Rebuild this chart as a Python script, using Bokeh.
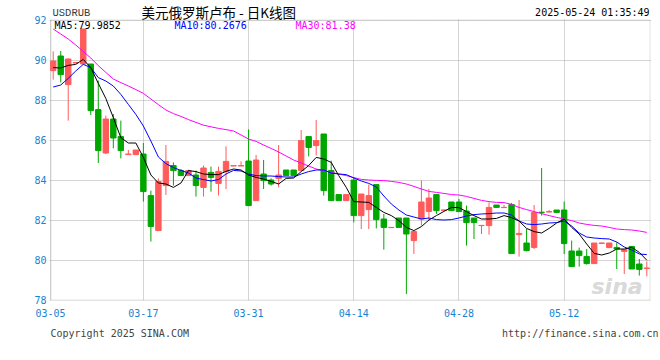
from bokeh.plotting import figure
from bokeh.models import Range1d, FixedTicker, Label, ColumnDataSource, BoxAnnotation, Title
from bokeh.embed import file_html
from bokeh.resources import INLINE

# ---------------- data ----------------
date_labels = ["03-05", "03-17", "03-31", "04-14", "04-28", "05-12"]
date_days = [0, 12, 26, 40, 54, 68]
y_ticks = [78, 80, 82, 84, 86, 88, 90, 92]

opens = [89.47, 90.20, 88.77, 89.85, 89.80, 89.80, 87.52, 85.35, 87.05, 86.17,
         85.27, 85.27, 85.30, 83.22, 81.47, 83.72, 84.72, 84.47, 84.22, 84.25,
         83.63, 84.38, 83.83, 84.42, 84.70, 84.70, 84.95, 82.97, 84.30, 84.00,
         84.08, 84.50, 84.50, 84.47, 86.17, 85.72, 86.30, 84.47, 83.27, 82.97,
         84.00, 82.22, 82.52, 83.77, 82.05, 81.62, 82.10, 82.10, 80.97, 82.05,
         82.43, 83.27, 82.48, 82.90, 82.90, 82.45, 82.10, 81.72, 81.72, 82.75,
         82.62, 82.77, 81.27, 80.85, 80.63, 82.39, 82.40, 82.50, 82.50, 80.45,
         80.45, 80.18, 79.82, 80.83, 80.62, 80.63, 80.43, 80.68, 79.80, 79.58]
highs = [90.43, 90.45, 90.08, 89.90, 91.55, 89.80, 88.97, 87.22, 87.30, 86.97,
         85.50, 85.50, 85.85, 83.47, 84.08, 85.75, 84.88, 84.55, 84.52, 84.47,
         84.72, 84.67, 84.67, 85.68, 84.73, 84.93, 86.53, 85.25, 85.00, 84.08,
         85.75, 84.50, 84.50, 86.50, 86.17, 87.00, 86.30, 84.97, 83.27, 83.27,
         84.13, 83.30, 83.77, 83.77, 82.30, 81.65, 82.10, 82.10, 81.42, 83.98,
         83.55, 83.27, 82.52, 82.90, 83.05, 82.72, 82.10, 81.73, 82.88, 82.75,
         82.75, 82.85, 83.00, 81.55, 82.75, 84.60, 82.50, 82.50, 82.92, 80.97,
         80.62, 80.55, 80.85, 80.87, 80.85, 80.88, 80.52, 80.68, 80.05, 79.93]
lows = [89.02, 88.88, 86.97, 89.83, 89.78, 87.25, 84.85, 85.30, 85.58, 85.08,
        85.25, 85.27, 82.92, 80.92, 81.47, 83.25, 83.72, 84.20, 84.22, 83.17,
        83.17, 83.42, 83.22, 83.55, 84.70, 84.70, 82.70, 82.97, 83.55, 83.72,
        83.63, 84.22, 84.22, 84.47, 85.18, 85.22, 83.22, 82.97, 82.97, 82.97,
        81.88, 81.55, 81.55, 81.58, 80.52, 81.60, 81.63, 78.30, 80.30, 81.72,
        81.97, 82.30, 82.48, 82.45, 82.42, 80.72, 81.05, 81.30, 81.27, 82.63,
        82.62, 80.32, 80.17, 80.43, 80.55, 82.22, 82.38, 82.38, 80.30, 79.67,
        79.67, 79.77, 79.82, 80.83, 80.62, 79.55, 79.30, 79.55, 79.22, 79.18]
closes = [89.95, 89.27, 90.05, 89.87, 91.55, 87.47, 85.47, 87.05, 86.10, 85.47,
          85.30, 85.50, 83.42, 81.68, 83.92, 84.93, 84.47, 84.22, 84.47, 83.72,
          84.60, 84.13, 84.43, 84.93, 84.72, 84.72, 82.72, 85.00, 83.97, 83.80,
          84.25, 84.22, 84.22, 85.97, 85.63, 85.97, 83.47, 82.97, 82.97, 83.27,
          82.22, 83.30, 83.22, 82.02, 81.63, 81.63, 81.63, 81.30, 81.42, 82.90,
          83.10, 82.47, 82.50, 82.47, 82.42, 81.87, 81.87, 81.73, 82.63, 82.63,
          82.63, 80.32, 81.33, 80.47, 82.38, 82.37, 82.42, 82.38, 80.82, 79.67,
          80.22, 79.82, 80.85, 80.85, 80.85, 80.55, 80.52, 79.55, 79.53, 79.60]

ma5 = [89.62, 89.60, 89.73, 89.78, 90.03, 89.62, 88.83, 88.08, 87.12, 86.12,
       85.85, 85.85, 85.13, 84.25, 83.85, 83.80, 83.63, 83.85, 84.47, 84.42,
       84.30, 84.27, 84.27, 84.43, 84.55, 84.50, 84.25, 84.13, 84.05, 83.93,
       83.80, 84.08, 84.10, 84.42, 84.72, 85.13, 85.05, 84.88, 84.22, 83.63,
       82.92, 82.90, 82.88, 82.63, 82.38, 82.22, 81.97, 81.63, 81.47, 81.67,
       82.00, 82.22, 82.43, 82.63, 82.62, 82.42, 82.22, 82.05, 82.05, 82.08,
       82.22, 82.12, 81.95, 81.58, 81.42, 81.35, 81.58, 81.85, 82.05, 81.63,
       81.30, 80.80, 80.33, 80.25, 80.35, 80.55, 80.55, 80.63, 80.38, 79.99]
ma10 = [88.65, 88.75, 89.08, 89.45, 89.78, 89.62, 89.12, 88.95, 88.70, 88.28,
        87.78, 87.28, 86.70, 85.95, 85.15, 84.82, 84.62, 84.48, 84.35, 84.10,
        84.02, 83.95, 84.02, 84.30, 84.48, 84.45, 84.30, 84.22, 84.20, 84.20,
        84.17, 84.15, 84.15, 84.30, 84.42, 84.50, 84.50, 84.35, 84.30, 84.27,
        84.10, 83.95, 83.83, 83.65, 83.20, 82.80, 82.50, 82.25, 82.15, 82.05,
        82.10, 82.02, 82.00, 82.02, 82.10, 82.20, 82.27, 82.30, 82.32, 82.35,
        82.35, 82.25, 81.95, 81.80, 81.77, 81.80, 81.85, 81.87, 81.95, 81.70,
        81.35, 81.15, 81.10, 81.07, 81.05, 80.90, 80.65, 80.50, 80.30, 80.27]
ma30 = [91.55, 91.30, 91.05, 90.75, 90.43, 90.10, 89.72, 89.38, 89.05, 88.87,
        88.70, 88.52, 88.33, 88.05, 87.77, 87.50, 87.32, 87.18, 87.02, 86.88,
        86.74, 86.66, 86.58, 86.52, 86.45, 86.25, 86.05, 85.93, 85.75, 85.58,
        85.40, 85.20, 85.00, 84.85, 84.70, 84.55, 84.47, 84.38, 84.30, 84.22,
        84.12, 84.03, 84.00, 83.98, 83.97, 83.93, 83.88, 83.80, 83.68, 83.55,
        83.43, 83.38, 83.33, 83.27, 83.25, 83.18, 83.08, 82.98, 82.92, 82.88,
        82.87, 82.78, 82.63, 82.52, 82.42, 82.32, 82.22, 82.13, 82.05, 81.97,
        81.85, 81.78, 81.73, 81.70, 81.63, 81.55, 81.52, 81.50, 81.45, 81.38]

# ---------------- layout ----------------
W, H = 660, 360
ML, MR, MT, MB = 49, 9, 0, 60          # frame: x 49..651, y 0..300 (canvas px)
BOX_L, BOX_R = 50.5, 649.5             # chart box border (half-pixel for crisp lines)
Y_TOP_PX, PX_PER_Y = 19.5, 20.0        # canvas y of the top tick, px per unit
SLOT = 7.514                           # px per day
X_AT_50 = -0.36                        # data x at canvas x = 50
Y_TOP, Y_BOT = y_ticks[-1], y_ticks[0]

def dx(px):  # canvas x pixel -> data x
    return X_AT_50 + (px - 50) / SLOT

def dy(py):  # canvas y pixel -> data y
    return Y_TOP - (py - Y_TOP_PX) / PX_PER_Y

RED, GREEN = "#ff5b5b", "#00a600"
BLUE_TXT = "#1883cf"
GRAY = "#a0a0a0"
MONO = "DejaVu Sans Mono"

p = figure(width=W, height=H,
           x_range=Range1d(dx(ML), dx(W - MR)), y_range=Range1d(dy(H - MB), dy(MT)),
           output_backend="svg", toolbar_location=None, title=None,
           min_border_left=ML, min_border_right=MR, min_border_top=MT, min_border_bottom=MB)
p.background_fill_color = "white"
p.border_fill_color = "white"
p.outline_line_color = None

n = len(closes)
xs = list(range(n))
src = ColumnDataSource(dict(
    x=xs, low=lows, high=highs,
    top=[max(o, c) for o, c in zip(opens, closes)],
    bottom=[min(o, c) for o, c in zip(opens, closes)],
    color=[RED if c >= o else GREEN for o, c in zip(opens, closes)],
))
p.segment(x0="x", y0="low", x1="x", y1="high", line_color="color", line_width=1, source=src)
p.vbar(x="x", width=0.72, top="top", bottom="bottom", fill_color="color",
       line_color="color", line_width=1, source=src)

p.line(xs, ma30, line_color="#ff00ff", line_width=1)
p.line(xs, ma10, line_color="#0000ff", line_width=1)
p.line(xs, ma5, line_color="#000000", line_width=1)

# ticks / grid
xt = [X_AT_50] + [float(d) for d in date_days[1:]]
p.xaxis.ticker = FixedTicker(ticks=xt)
p.xaxis.major_label_overrides = {t: lab for t, lab in zip(xt, date_labels)}
p.yaxis.ticker = FixedTicker(ticks=y_ticks)
p.xgrid.ticker = FixedTicker(ticks=xt)
p.ygrid.ticker = FixedTicker(ticks=y_ticks)
for g in (p.xgrid, p.ygrid):
    g.grid_line_color = "#aaaaaa"
    g.grid_line_dash = "1 1"
    g.grid_line_width = 1
for ax in (p.xaxis, p.yaxis):
    ax.axis_line_color = None
    ax.major_tick_line_color = None
    ax.minor_tick_line_color = None
    ax.major_tick_in = 0
    ax.major_tick_out = 0
    ax.major_label_text_font = MONO
    ax.major_label_text_font_size = "10px"
    ax.major_label_text_color = BLUE_TXT
p.xaxis.major_label_standoff = 8
p.yaxis.major_label_standoff = 3
p.yaxis.major_label_text_baseline = "alphabetic"

# white header strip above the chart box (hides grid there), then the box border
p.add_layout(BoxAnnotation(bottom=dy(19.0), fill_color="white", fill_alpha=1.0,
                           line_color=None))
p.add_layout(BoxAnnotation(left=dx(BOX_L), right=dx(BOX_R), bottom=Y_BOT, top=Y_TOP,
                           fill_alpha=0, line_color=GRAY, line_width=1))

def lab(text, px, py, color="#000000", font=MONO, size="10px", align="left",
        baseline="top", style="normal", level="annotation"):
    p.add_layout(Label(x=dx(px), y=dy(py), text=text, text_color=color, text_font=font,
                       text_font_size=size, text_align=align, text_baseline=baseline,
                       text_font_style=style, level=level))

# watermark
lab("sina", 591, 298, color="#d9d9d9", font="DejaVu Sans", size="22px",
    baseline="bottom", style="bold italic", level="underlay")

# header
lab("USDRUB", 52, 6, color="#3a3a3a", font="Liberation Mono", size="10.5px")
lab("美元俄罗斯卢布 - 日K线图", 141, 1.5, font="Noto Sans CJK SC", size="13.5px")
lab("2025-05-24 01:35:49", 649, 6, align="right")
lab("MA5:" + "79.9852", 54, 19.5, color="#000000")
lab("MA10:" + "80.2676", 174, 19.5, color="#0000ff")
lab("MA30:" + "81.38", 295, 19.5, color="#ff00ff")

# footer (one line, two texts separated by no-break spaces)
footer = "Copyright 2025 SINA.COM" + "\u00a0" * 52 + "http://finance.sina.com.cn"
p.add_layout(Title(text=footer, align="left", offset=1, text_font=MONO,
                   text_font_size="10px", text_color="#444444", text_font_style="normal",
                   standoff=12), "below")

open("out.html", "w").write(file_html(p, INLINE))
